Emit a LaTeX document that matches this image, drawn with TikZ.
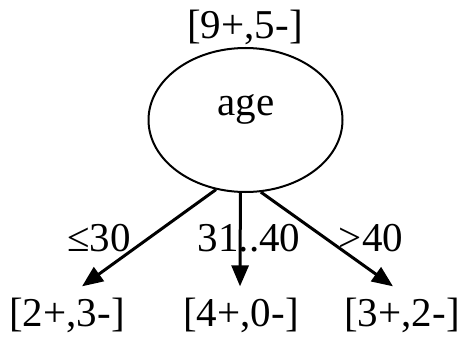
\documentclass[tikz,border=0pt]{standalone}
\usepackage{fontspec}
\setmainfont{Liberation Serif}
\usetikzlibrary{arrows.meta,shapes.geometric}
\begin{document}
\begin{tikzpicture}[x=1pt,y=-1pt,
    count/.style={font=\fontsize{41}{44}\selectfont, inner sep=0pt, anchor=base},
    branch/.style={line width=3pt, -{Triangle[length=21pt,width=17pt]}}]
    \useasboundingbox (0,0) rectangle (465,337);

    \node[draw, ellipse, line width=2pt, minimum width=194pt, minimum height=144pt, inner sep=0pt] (age) at (245.5,120) {};
    \node[count] (agetext) at (246,115) {age};
    \node[count] (top) at (245,39) {[9+,5-]};

    \node[count] (lo) at (67,326) {[2+,3-]};
    \node[count] (mid) at (241,326) {[4+,0-]};
    \node[count] (hi) at (402,326) {[3+,2-]};

    \draw[branch] (age.-113) -- ([shift={(15,-11)}]lo.north);
    \draw[branch] (age.-94.4) -- ([shift={(-1,-11)}]mid.north);
    \draw[branch] (age.-78.6) -- ([shift={(-9,-11)}]hi.north);

    \node[count] (lolabel) at (99,251) {≤30};
    \node[count] (midlabel) at (249,251) {31..40};
    \node[count] (hilabel) at (371,251) {>40};
\end{tikzpicture}
\end{document}
